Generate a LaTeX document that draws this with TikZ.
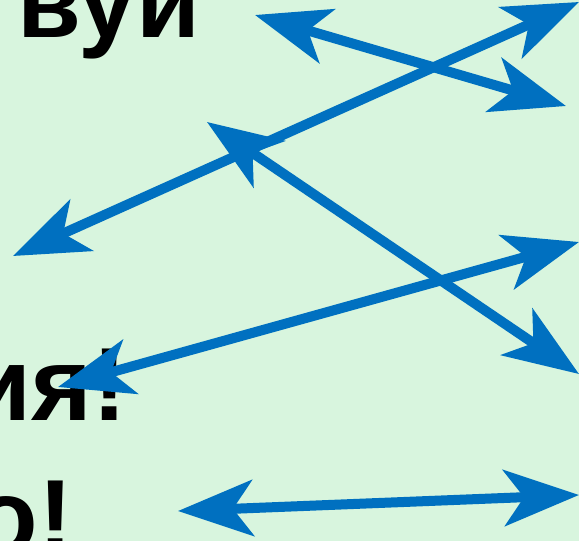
\documentclass[tikz,border=0pt]{standalone}
\usepackage{fontspec}
\setmainfont{Liberation Sans}
\usepackage{xcolor}
\usetikzlibrary{arrows.meta}

\definecolor{paleGreen}{RGB}{216,245,222}
\definecolor{linkBlue}{RGB}{0,112,192}

\begin{document}
\begin{tikzpicture}[
            x=1pt, y=-1pt,
            word/.style={inner sep=0pt, text=black, font=\fontsize{104}{110}\selectfont\bfseries},
            twoway/.style={draw=linkBlue, line width=10pt,
                {Stealth[length=75pt, width=56pt, inset=20pt]}-{Stealth[length=75pt, width=56pt, inset=20pt]}}
        ]

        % Background
        \fill [paleGreen] (0,0) rectangle (579,541);
        \clip (0,0) rectangle (579,541);

        % Words
        \node [word, anchor=base west] (top) at (17,37) {вуй};
        \node [word, anchor=base east] (mid) at (127,420) {ия!};
        \node [word, anchor=base east] (low) at (73,552) {о!};

        % Arrow ends
        \coordinate (a1) at (255,15);  \coordinate (b1) at (566,106);
        \coordinate (a2) at (13,256);  \coordinate (b2) at (579,2);
        \coordinate (a3) at (207,122); \coordinate (b3) at (579,374);
        \coordinate (a4) at (58,387);  \coordinate (b4) at (579,242);
        \coordinate (a5) at (178,511); \coordinate (b5) at (579,495);

        % Arrows
        \draw [twoway] (a1) -- (b1);
        \draw [twoway] (a2) -- (b2);
        \draw [twoway] (a3) -- (b3);
        \draw [twoway] (a4) -- (b4);
        \draw [twoway] (a5) -- (b5);

    \end{tikzpicture}
\end{document}
